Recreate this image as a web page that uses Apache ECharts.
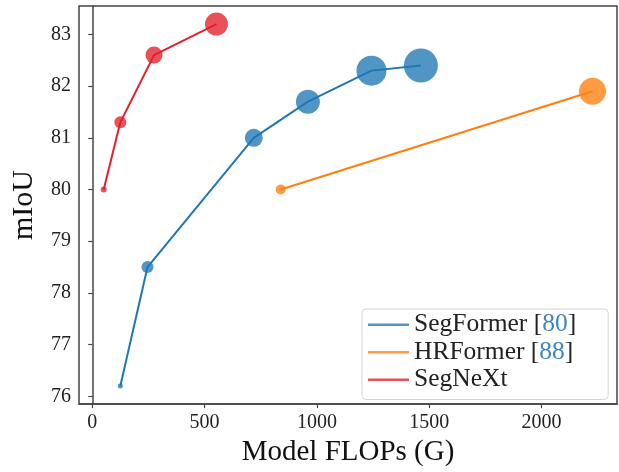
<!DOCTYPE html>
<html>
<head>
<meta charset="utf-8">
<script src="https://cdn.jsdelivr.net/npm/echarts@6/dist/echarts.min.js"></script>
<style>html,body{margin:0;padding:0;background:#fff}#c{width:619px;height:472px}</style>
</head>
<body>
<div id="c"></div>
<script>
const xTicks = [0, 500, 1000, 1500, 2000];
const yTicks = [76, 77, 78, 79, 80, 81, 82, 83];

const segformerFlops = [125, 246, 719, 960, 1243, 1463];
const segformerMiou = [76.2, 78.5, 81.0, 81.7, 82.3, 82.4];
const segformerMarker = [5, 12, 18, 24, 30, 34];

const hrformerFlops = [839, 2227];
const hrformerMiou = [80.0, 81.9];
const hrformerMarker = [10, 27];

const segnextFlops = [51, 125, 275, 553];
const segnextMiou = [80.0, 81.3, 82.6, 83.2];
const segnextMarker = [6, 12, 17, 23];

const FONT = 'Liberation Serif';

function pts(xs, ys, ss) {
  return xs.map((x, i) => ({ value: [x, ys[i]], symbolSize: ss[i] }));
}
function mk(name, color, xs, ys, ss) {
  return {
    name: name, type: 'line', data: pts(xs, ys, ss),
    symbol: 'circle', showSymbol: true, z: 3,
    lineStyle: { color: color, width: 2 },
    itemStyle: { color: color, opacity: 0.78, borderWidth: 0 },
    emphasis: { disabled: true }, animation: false
  };
}

const chart = echarts.init(document.getElementById('c'), null, { renderer: 'canvas' });
chart.setOption({
  animation: false,
  textStyle: { fontFamily: FONT },
  grid: { left: 79, right: 2, top: 6, bottom: 64, show: true, borderColor: '#444', borderWidth: 1.5, backgroundColor: 'transparent' },
  xAxis: {
    type: 'value', min: -59, max: 2336,
    name: 'Model FLOPs (G)', nameLocation: 'middle', nameGap: 32,
    nameTextStyle: { fontFamily: FONT, fontSize: 29, color: '#111' },
    axisLine: { show: true, lineStyle: { color: '#444', width: 1.5 } },
    axisTick: { show: true, inside: false, length: 4, customValues: xTicks, lineStyle: { color: '#444', width: 1.2 } },
    axisLabel: { customValues: xTicks, margin: 9, fontFamily: FONT, fontSize: 20, color: '#222', formatter: function (v) { return String(Math.round(v)); } },
    splitLine: { show: false }
  },
  yAxis: {
    type: 'value', min: 75.85, max: 83.55,
    name: 'mIoU', nameLocation: 'middle', nameGap: 40, nameRotate: 90,
    nameTextStyle: { fontFamily: FONT, fontSize: 30, color: '#111' },
    axisLine: { show: true, lineStyle: { color: '#444', width: 1.5 } },
    axisTick: { show: true, inside: false, length: 4, customValues: yTicks, lineStyle: { color: '#444', width: 1.2 } },
    axisLabel: { customValues: yTicks, margin: 8, fontFamily: FONT, fontSize: 20, color: '#222', formatter: function (v) { return String(Math.round(v)); } },
    splitLine: { show: false }
  },
  legend: {
    left: 362, top: 309, orient: 'vertical',
    padding: [2, 32, 6, 6], itemGap: 0,
    itemWidth: 41, itemHeight: 2.5, icon: 'rect',
    backgroundColor: '#fff', borderColor: '#d4d4d4', borderWidth: 1, borderRadius: 4,
    selectedMode: false,
    data: ['SegFormer [80]', 'HRFormer [88]', 'SegNeXt'],
    formatter: function (name) {
      const m = name.match(/^(.*)\[(\d+)\]$/);
      if (m) return '{n|' + m[1] + '}{p|[}{c|' + m[2] + '}{p|]}';
      return '{n|' + name + '}';
    },
    textStyle: {
      fontFamily: FONT, fontSize: 25.5, color: '#222', lineHeight: 27.5,
      rich: {
        n: { fontFamily: FONT, fontSize: 25.5, color: '#222', lineHeight: 27.5 },
        p: { fontFamily: FONT, fontSize: 25.5, color: '#222', lineHeight: 27.5 },
        c: { fontFamily: FONT, fontSize: 25.5, color: '#3d86bd', lineHeight: 27.5 }
      }
    }
  },
  series: [
    mk('SegFormer [80]', '#1f77b4', segformerFlops, segformerMiou, segformerMarker),
    mk('HRFormer [88]', '#ff7f0e', hrformerFlops, hrformerMiou, hrformerMarker),
    mk('SegNeXt', '#e3202a', segnextFlops, segnextMiou, segnextMarker)
  ]
});
</script>
</body>
</html>
